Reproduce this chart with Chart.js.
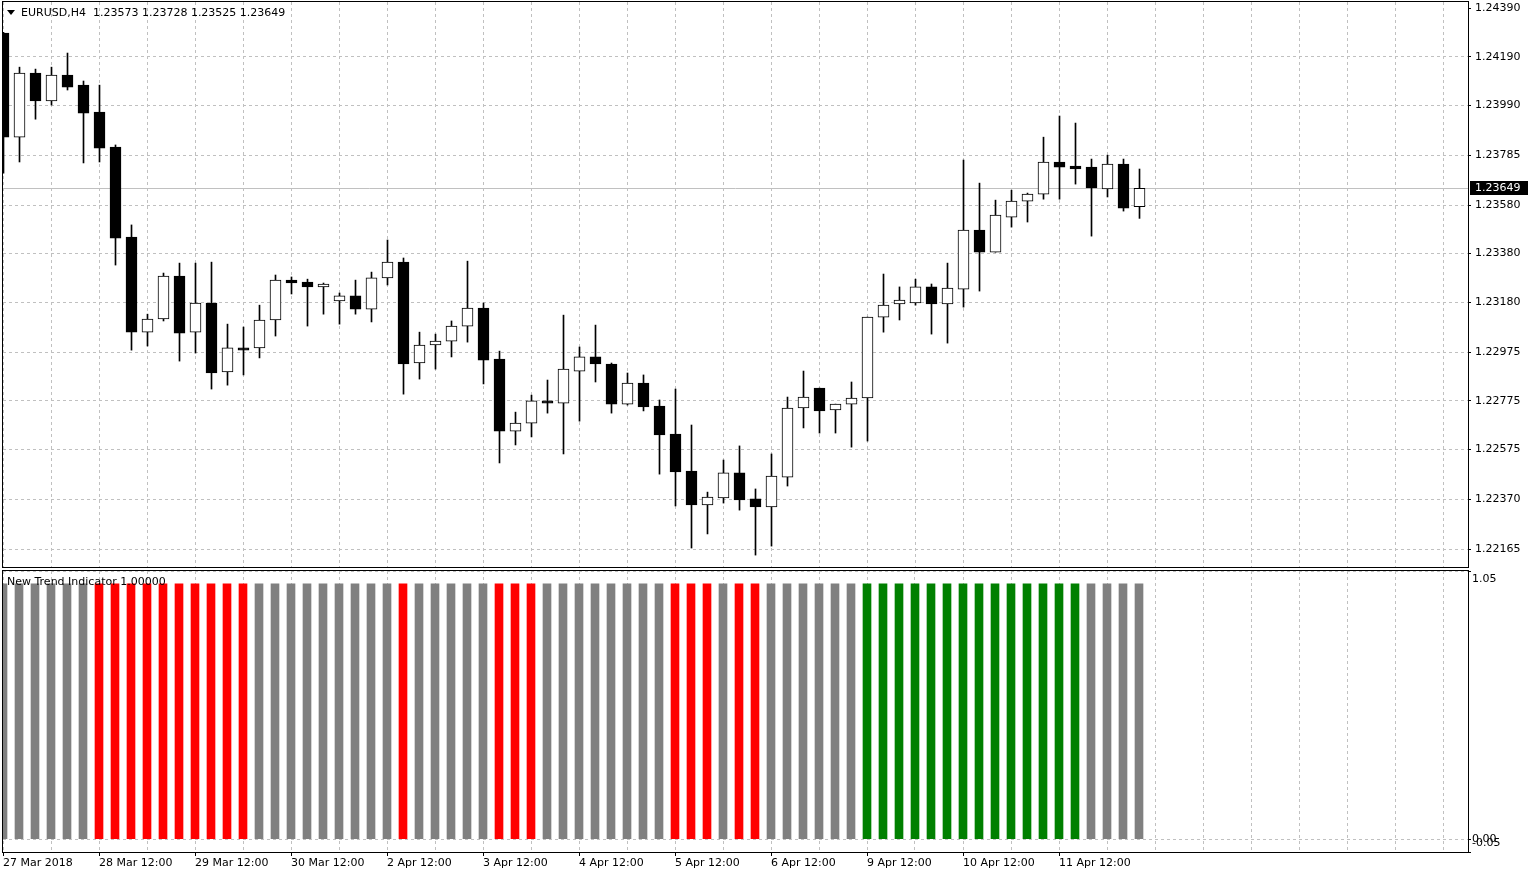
<!DOCTYPE html>
<html><head><meta charset="utf-8">
<script src="https://cdn.jsdelivr.net/npm/chart.js@4.4.0/dist/chart.umd.min.js"></script>
<style>
html,body{margin:0;padding:0;background:#fff;width:1528px;height:876px;overflow:hidden;}
#wrap{position:relative;width:1528px;height:876px;background:#fff;}
canvas{position:absolute;left:0;}
#main{top:0;}
#ind{top:560px;}
.lbl{position:absolute;font-family:"DejaVu Sans",sans-serif;font-size:11px;color:#000;white-space:pre;line-height:13px;}
#tri{position:absolute;left:7px;top:10px;width:0;height:0;border-left:4px solid transparent;border-right:4px solid transparent;border-top:5px solid #000;}
</style></head>
<body><div id="wrap">
<canvas id="main" width="1528" height="570"></canvas>
<canvas id="ind" width="1528" height="316"></canvas>
<div id="tri"></div>
<div class="lbl" id="title" style="left:21px;top:6px;"></div>
<div class="lbl" id="indTitle" style="left:7px;top:575px;"></div>
</div>
<script>
// ---------------- data ----------------
const symbolName = "EURUSD,H4";
const indicatorName = "New Trend Indicator 1.00000";

const xTickLabels = ["27 Mar 2018","28 Mar 12:00","29 Mar 12:00","30 Mar 12:00","2 Apr 12:00","3 Apr 12:00","4 Apr 12:00","5 Apr 12:00","6 Apr 12:00","9 Apr 12:00","10 Apr 12:00","11 Apr 12:00"];

const priceTicks = [1.24390,1.24190,1.23990,1.23785,1.23580,1.23380,1.23180,1.22975,1.22775,1.22575,1.22370,1.22165];
const indicatorTicks = [1.05, 0.00, -0.05];

const openPrices = [
1.24287,1.23859,1.24123,1.24008,1.24114,1.24073,1.23962,1.23818,1.23448,1.23057,
1.23111,1.23288,1.23057,1.23177,1.22893,1.22992,1.22992,1.23107,1.23271,1.23263,
1.23243,1.23185,1.23206,1.23152,1.23280,1.23345,1.22930,1.23004,1.23020,1.23082,
1.23156,1.22946,1.22650,1.22683,1.22774,1.22765,1.22897,1.22955,1.22926,1.22761,
1.22848,1.22753,1.22638,1.22486,1.22346,1.22375,1.22478,1.22371,1.22338,1.22461,
1.22745,1.22827,1.22737,1.22761,1.22786,1.23119,1.23173,1.23177,1.23243,1.23173,
1.23234,1.23477,1.23386,1.23530,1.23596,1.23625,1.23757,1.23740,1.23736,1.23646,
1.23748,1.23573];

const highPrices = [
1.24290,1.24147,1.24139,1.24147,1.24205,1.24090,1.24073,1.23827,1.23498,1.23131,
1.23300,1.23341,1.23341,1.23345,1.23090,1.23078,1.23168,1.23292,1.23284,1.23275,
1.23259,1.23218,1.23271,1.23304,1.23436,1.23362,1.23057,1.23049,1.23103,1.23349,
1.23177,1.22979,1.22728,1.22798,1.22860,1.23127,1.22996,1.23086,1.22930,1.22889,
1.22881,1.22778,1.22823,1.22675,1.22399,1.22531,1.22589,1.22412,1.22556,1.22790,
1.22897,1.22827,1.22761,1.22852,1.23119,1.23296,1.23243,1.23275,1.23255,1.23341,
1.23765,1.23670,1.23600,1.23641,1.23629,1.23859,1.23946,1.23917,1.23769,1.23785,
1.23769,1.23728];

const lowPrices = [
1.23711,1.23757,1.23933,1.23991,1.24053,1.23753,1.23757,1.23333,1.22983,1.23000,
1.23103,1.22938,1.22971,1.22823,1.22839,1.22881,1.22951,1.23041,1.23214,1.23082,
1.23131,1.23090,1.23131,1.23099,1.23251,1.22802,1.22864,1.22905,1.22955,1.23016,
1.22844,1.22519,1.22593,1.22626,1.22724,1.22556,1.22691,1.22852,1.22724,1.22757,
1.22733,1.22473,1.22342,1.22169,1.22227,1.22354,1.22325,1.22140,1.22177,1.22424,
1.22663,1.22642,1.22642,1.22584,1.22609,1.23057,1.23107,1.23168,1.23049,1.23012,
1.23160,1.23226,1.23386,1.23489,1.23510,1.23604,1.23604,1.23666,1.23452,1.23613,
1.23555,1.23525];

const closePrices = [
1.23859,1.24123,1.24008,1.24114,1.24065,1.23958,1.23814,1.23444,1.23057,1.23111,
1.23288,1.23053,1.23177,1.22889,1.22992,1.22983,1.23107,1.23271,1.23259,1.23243,
1.23255,1.23206,1.23152,1.23280,1.23345,1.22926,1.23004,1.23020,1.23082,1.23156,
1.22942,1.22650,1.22683,1.22774,1.22765,1.22905,1.22955,1.22926,1.22761,1.22848,
1.22749,1.22634,1.22482,1.22346,1.22379,1.22478,1.22367,1.22338,1.22465,1.22745,
1.22790,1.22733,1.22761,1.22786,1.23119,1.23168,1.23189,1.23243,1.23173,1.23238,
1.23477,1.23386,1.23539,1.23596,1.23625,1.23757,1.23736,1.23728,1.23650,1.23748,
1.23567,1.23649];

// indicator histogram value per bar
const indicatorValues = [
1,1,1,1,1,1,1,1,1,1, 1,1,1,1,1,1,1,1,1,1,
1,1,1,1,1,1,1,1,1,1, 1,1,1,1,1,1,1,1,1,1,
1,1,1,1,1,1,1,1,1,1, 1,1,1,1,1,1,1,1,1,1,
1,1,1,1,1,1,1,1,1,1, 1,1];
// trend state per bar: 0 = flat (gray), -1 = down (red), 1 = up (green)
const trendState = [
0,0,0,0,0,0,-1,-1,-1,-1, -1,-1,-1,-1,-1,-1,0,0,0,0,
0,0,0,0,0,-1,0,0,0,0, 0,-1,-1,-1,0,0,0,0,0,0,
0,0,-1,-1,-1,0,-1,-1,0,0, 0,0,0,0,1,1,1,1,1,1,
1,1,1,1,1,1,1,1,0,0, 0,0];

// ---------------- rendering ----------------
const lastOpen = openPrices[openPrices.length-1];
const lastHigh = highPrices[highPrices.length-1];
const lastLow = lowPrices[lowPrices.length-1];
const lastClose = closePrices[closePrices.length-1];
document.getElementById('title').textContent =
  symbolName + "  " + [lastOpen,lastHigh,lastLow,lastClose].map(v=>v.toFixed(5)).join(" ");
document.getElementById('indTitle').textContent = indicatorName;

Chart.defaults.font.family = '"DejaVu Sans", sans-serif';
Chart.defaults.font.size = 11;
Chart.defaults.color = '#000';

const BARS_PER_LABEL = 6, BARS_PER_GRID = 3;
const gridTickValues = [];
for (let v = 0; v <= 90; v += BARS_PER_GRID) gridTickValues.push(v);
const GRID = '#c0c0c0';
const trendColors = {'0':'#808080','-1':'#ff0000','1':'#008000'};

function noPad(s){ s.paddingTop = 0; s.paddingBottom = 0; s.paddingLeft = 0; s.paddingRight = 0; }

const mainDeco = {
  id:'mainDeco',
  beforeDatasetsDraw(chart){
    const {ctx, chartArea:a, scales:{y}} = chart;
    const py = Math.round(y.getPixelForValue(lastClose)) + 0.5;
    ctx.save(); ctx.strokeStyle = GRID; ctx.lineWidth = 1;
    ctx.beginPath(); ctx.moveTo(a.left, py); ctx.lineTo(a.right, py); ctx.stroke();
    ctx.restore();
  },
  afterDraw(chart){
    const {ctx, chartArea:a, scales:{y}} = chart;
    ctx.save();
    ctx.strokeStyle = '#000'; ctx.lineWidth = 1;
    ctx.strokeRect(2.5, Math.round(a.top)-0.5, Math.round(a.right)-2, Math.round(a.bottom)-Math.round(a.top)+1);
    const py = Math.round(y.getPixelForValue(lastClose));
    ctx.fillStyle = '#000';
    ctx.fillRect(Math.round(a.right)+2, py-7, 60, 14);
    ctx.fillStyle = '#fff';
    ctx.font = '11px "DejaVu Sans"';
    ctx.textAlign = 'left'; ctx.textBaseline = 'middle';
    ctx.fillText(lastClose.toFixed(5), Math.round(a.right)+7, py+0.5);
    ctx.restore();
  }
};

new Chart(document.getElementById('main'), {
  type:'bar',
  data:{datasets:[
    {label:'body', data: openPrices.map((o,i)=>({x:i, y:[o, closePrices[i]]})),
     backgroundColor: c => closePrices[c.dataIndex] >= openPrices[c.dataIndex] ? '#ffffff' : '#000000',
     borderColor:'#000', borderWidth:1, borderSkipped:false, barThickness:11, grouped:false, order:0, clip:0},
    {label:'wick', data: highPrices.map((h,i)=>({x:i, y:[lowPrices[i], h]})),
     backgroundColor:'#000', borderWidth:0, barThickness:1, grouped:false, order:1, clip:0}
  ]},
  options:{
    responsive:false, animation:false, events:[],
    layout:{autoPadding:false, padding:{left:3, top:2, right:0, bottom:3}},
    plugins:{legend:{display:false}, tooltip:{enabled:false}},
    scales:{
      x:{type:'linear', min:-0.03125, max:91.53125, offset:false,
         afterBuildTicks: s => { s.ticks = gridTickValues.map(v=>({value:v})); },
         ticks:{display:false},
         grid:{color:GRID, lineWidth:1, drawTicks:false, offset:false},
         border:{display:false, dash:[3,3]},
         afterFit: s => { s.height = 0; noPad(s); }},
      y:{type:'linear', position:'right', min:1.22091, max:1.24415,
         afterBuildTicks: s => { s.ticks = priceTicks.map(v=>({value:v})); },
         ticks:{autoSkip:false, padding:4, callback: v => Number(v).toFixed(5)},
         grid:{color: c => (c.tick && c.tick.value === priceTicks[0]) ? 'rgba(0,0,0,0)' : GRID,
               tickColor:'#000', tickLength:3, tickBorderDash:[], offset:false},
         border:{display:false, dash:[3,3]},
         afterFit: s => { s.width = 60; noPad(s); }}
    }
  },
  plugins:[mainDeco]
});

const indDeco = {
  id:'indDeco',
  afterDraw(chart){
    const {ctx, chartArea:a, scales:{y}} = chart;
    ctx.save();
    ctx.strokeStyle = '#000'; ctx.lineWidth = 1;
    ctx.strokeRect(2.5, Math.round(a.top)-0.5, Math.round(a.right)-2, Math.round(a.bottom)-Math.round(a.top)+1);
    ctx.fillStyle = '#000';
    ctx.font = '11px "DejaVu Sans"';
    ctx.textAlign = 'left'; ctx.textBaseline = 'middle';
    const mx = Math.max(...indicatorTicks), mn = Math.min(...indicatorTicks);
    indicatorTicks.forEach(v => {
      let py = y.getPixelForValue(v);
      if (v === mx) py += 8.5; else if (v === mn) py -= 9;
      ctx.fillText(v.toFixed(2), Math.round(a.right)+4, py);
    });
    ctx.restore();
  }
};

new Chart(document.getElementById('ind'), {
  type:'bar',
  data:{datasets:[
    {label:indicatorName, data: indicatorValues.map((v,i)=>({x:i, y:v})),
     backgroundColor: c => trendColors[String(trendState[c.dataIndex])],
     borderWidth:0, barThickness:8, grouped:false, clip:0}
  ]},
  options:{
    responsive:false, animation:false, events:[],
    layout:{autoPadding:false, padding:{left:3, top:11, right:0, bottom:0}},
    plugins:{legend:{display:false}, tooltip:{enabled:false}},
    scales:{
      x:{type:'linear', min:0, max:91.5625, offset:false,
         afterBuildTicks: s => { s.ticks = gridTickValues.map(v=>({value:v})); },
         ticks:{autoSkip:false, maxRotation:0, minRotation:0, align:'start', padding:1,
                callback: v => (v % BARS_PER_LABEL === 0 && xTickLabels[v / BARS_PER_LABEL]) || ''},
         grid:{color:GRID, lineWidth:1, tickLength:4, tickBorderDash:[], offset:false,
               tickColor: c => (c.tick && c.tick.value % BARS_PER_LABEL === 0 && xTickLabels[c.tick.value / BARS_PER_LABEL]) ? '#000' : 'rgba(0,0,0,0)'},
         border:{display:false, dash:[3,3]},
         afterFit: s => { s.height = 24; noPad(s); }},
      y:{type:'linear', position:'right', min:-0.05, max:1.05,
         afterBuildTicks: s => { s.ticks = indicatorTicks.map(v=>({value:v})); },
         ticks:{display:false},
         grid:{color:GRID, tickColor:'#000', tickLength:3, tickBorderDash:[], offset:false},
         border:{display:false, dash:[3,3]},
         afterFit: s => { s.width = 60; noPad(s); }}
    }
  },
  plugins:[indDeco]
});
</script>
</body></html>
